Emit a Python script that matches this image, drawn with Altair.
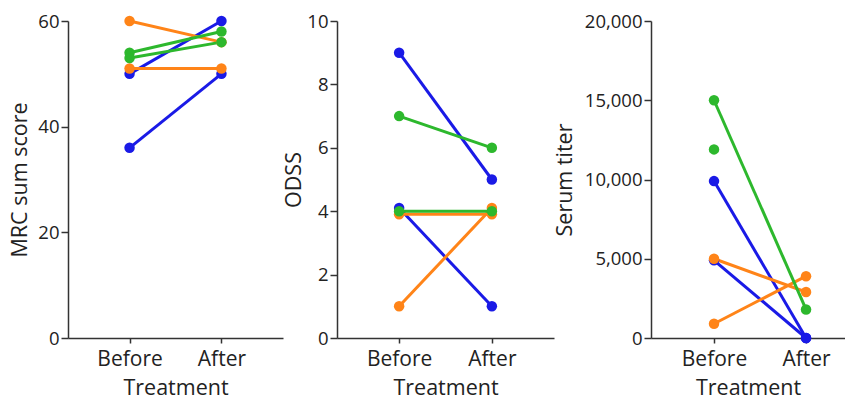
import altair as alt
import pandas as pd

times = ["Before", "After"]
colors_domain = ["blue", "orange", "green"]
colors_range = ["#1a1ae6", "#ff8418", "#2db82d"]

# MRC sum score
mrc_group = ["blue", "blue", "orange", "orange", "green", "green"]
mrc_before = [50, 36, 60, 51, 54, 53]
mrc_after = [60, 50, 56, 51, 58, 56]

# ODSS
odss_group = ["blue", "blue", "orange", "orange", "green", "green"]
odss_before = [9, 4.1, 3.9, 1, 7, 4]
odss_after = [5, 1, 3.9, 4.1, 6, 4]

# Serum titer
titer_group = ["blue", "blue", "orange", "orange", "green", "green"]
titer_before = [9900, 4900, 5000, 900, 15000, 11900]
titer_after = [0, 0, 2900, 3900, 1800, None]


def long_df(groups, before, after):
    rows = []
    for i, (g, b, a) in enumerate(zip(groups, before, after)):
        if b is not None:
            rows.append({"id": i, "group": g, "time": "Before", "value": b, "ord": i})
        if a is not None:
            rows.append({"id": i, "group": g, "time": "After", "value": a, "ord": i})
    return pd.DataFrame(rows)


def panel(df, title, domain, ticks, width, padding, align, tpad, fmt=None):
    x = alt.X("time:N", sort=times,
              scale=alt.Scale(type="point", domain=times, padding=padding, align=align),
              axis=alt.Axis(title="Treatment", labelAngle=0))
    if fmt:
        yaxis = alt.Axis(title=title, values=ticks, grid=False, format=fmt, titlePadding=tpad)
    else:
        yaxis = alt.Axis(title=title, values=ticks, grid=False, titlePadding=tpad)
    y = alt.Y("value:Q", scale=alt.Scale(domain=domain, nice=False, zero=True), axis=yaxis)
    color = alt.Color("group:N", scale=alt.Scale(domain=colors_domain, range=colors_range), legend=None)
    base = alt.Chart(df)
    lines = base.mark_line(strokeWidth=3).encode(x=x, y=y, color=color, detail="id:N", order="ord:Q")
    pts = base.mark_circle(size=110, opacity=1).encode(x=x, y=y, color=color, order="ord:Q")
    return (lines + pts).properties(width=width, height=317)


p1 = panel(long_df(mrc_group, mrc_before, mrc_after), "MRC sum score", [0, 60], [0, 20, 40, 60],
           215, 0.67, 0.5, 6)
p2 = panel(long_df(odss_group, odss_before, odss_after), "ODSS", [0, 10], [0, 2, 4, 6, 8, 10],
           217, 0.67, 0.5, 1)
p3 = panel(long_df(titer_group, titer_before, titer_after), "Serum titer", [0, 20000],
           [0, 5000, 10000, 15000, 20000], 194, 0.554, 0.618, 8, fmt=",d")

chart = alt.hconcat(p1, p2, p3, spacing=0).properties(
    padding={"left": 1, "top": 4, "right": 0, "bottom": 0}
).configure_view(stroke=None).configure_axis(
    labelFont="Open Sans", titleFont="Open Sans",
    titleFontSize=21.5, titleFontWeight="normal",
    labelColor="#222222", titleColor="#222222",
    domainColor="#333333", tickColor="#333333",
    domainWidth=1.5, tickWidth=1.5
).configure_axisX(
    labelFontSize=21, tickSize=5, labelPadding=5, titlePadding=8
).configure_axisY(
    labelFontSize=18.5, tickSize=7, labelPadding=2
)

chart.save("out.html", embed_options={"renderer": "svg", "actions": False})
